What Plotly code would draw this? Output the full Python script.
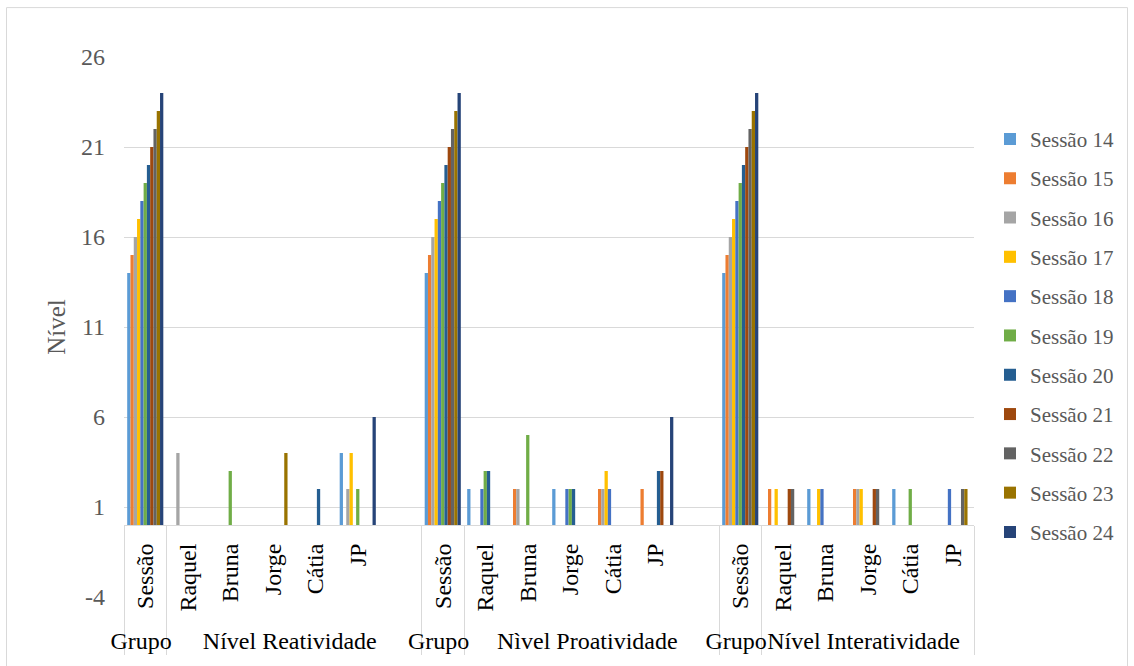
import plotly.graph_objects as go

# ---- categories (outer level / inner level) ----
ZW = "\u200b"
outer_labels = (["Grupo"] + ["Nível Reatividade"] * 6 +
                ["Grupo" + ZW] + ["Nìvel Proatividade"] * 6 +
                ["Grupo" + ZW * 2] + ["Nível Interatividade"] * 5)
inner_labels = (["Sessão", "Raquel", "Bruna", "Jorge", "Cátia", "JP", " "] +
                ["Sessão", "Raquel", "Bruna", "Jorge", "Cátia", "JP", " "] +
                ["Sessão", "Raquel", "Bruna", "Jorge", "Cátia", "JP"])

# ---- series values (one value per category above) ----
sessao_14 = [14, 0, 0, 0, 0, 4, 0, 14, 2, 0, 2, 0, 0, 0, 14, 0, 2, 0, 2, 0]
sessao_15 = [15, 0, 0, 0, 0, 0, 0, 15, 0, 2, 0, 2, 2, 0, 15, 2, 0, 2, 0, 0]
sessao_16 = [16, 4, 0, 0, 0, 2, 0, 16, 0, 2, 0, 2, 0, 0, 16, 0, 0, 2, 0, 0]
sessao_17 = [17, 0, 0, 0, 0, 4, 0, 17, 0, 0, 0, 3, 0, 0, 17, 2, 2, 2, 0, 0]
sessao_18 = [18, 0, 0, 0, 0, 0, 0, 18, 2, 0, 2, 2, 0, 0, 18, 0, 2, 0, 0, 2]
sessao_19 = [19, 0, 3, 0, 0, 2, 0, 19, 3, 5, 2, 0, 0, 0, 19, 0, 0, 0, 2, 0]
sessao_20 = [20, 0, 0, 0, 2, 0, 0, 20, 3, 0, 2, 0, 3, 0, 20, 0, 0, 0, 0, 0]
sessao_21 = [21, 0, 0, 0, 0, 0, 0, 21, 0, 0, 0, 0, 3, 0, 21, 2, 0, 2, 0, 0]
sessao_22 = [22, 0, 0, 0, 0, 0, 0, 22, 0, 0, 0, 0, 0, 0, 22, 2, 0, 2, 0, 2]
sessao_23 = [23, 0, 0, 4, 0, 0, 0, 23, 0, 0, 0, 0, 0, 0, 23, 0, 0, 0, 0, 2]
sessao_24 = [24, 0, 0, 0, 0, 6, 0, 24, 0, 0, 0, 0, 6, 0, 24, 0, 0, 0, 0, 0]

series_names = ["Sessão 14", "Sessão 15", "Sessão 16", "Sessão 17", "Sessão 18",
                "Sessão 19", "Sessão 20", "Sessão 21", "Sessão 22", "Sessão 23",
                "Sessão 24"]
series_values = [sessao_14, sessao_15, sessao_16, sessao_17, sessao_18, sessao_19,
                 sessao_20, sessao_21, sessao_22, sessao_23, sessao_24]
series_colors = ["#5B9BD5", "#ED7D31", "#A5A5A5", "#FFC000", "#4472C4", "#70AD47",
                 "#255E91", "#9E480E", "#636363", "#997300", "#264478"]

y_ticks = [-4, 1, 6, 11, 16, 21, 26]
y_tick_labels = ["-4", "1", "6", "11", "16", "21", "26"]

FONT = "Liberation Serif"
GRID = "#d9d9d9"

fig = go.Figure()
for name, vals, col in zip(series_names, series_values, series_colors):
    fig.add_trace(go.Bar(
        x=[outer_labels, inner_labels], y=vals, name=name,
        marker=dict(color=col, line=dict(width=0)),
        legendgroup=name,
    ))

W, H = 1134, 666
L, R, T, B = 124, 160, 57, 57
pw, ph = W - L - R, H - T - B

def px_x(p):
    return (p - L) / pw

def px_y(p):
    return (H - B - p) / ph

fig.update_layout(
    width=W, height=H,
    margin=dict(l=L, r=R, t=T, b=B),
    paper_bgcolor="white", plot_bgcolor="white",
    barmode="group", bargap=0.15, bargroupgap=0,
    font=dict(family=FONT, color="#595959"),
    showlegend=True,
    legend=dict(
        x=px_x(990), xanchor="left", y=px_y(342), yanchor="middle",
        font=dict(family=FONT, size=21, color="#595959"),
        tracegroupgap=9, bgcolor="rgba(0,0,0,0)",
    ),
    xaxis=dict(
        anchor="free", position=(0 - y_ticks[0]) / (y_ticks[-1] - y_ticks[0]),
        showline=True, linecolor=GRID, linewidth=1,
        showdividers=True, dividercolor=GRID, dividerwidth=1,
        tickangle=-90, ticks="", showgrid=False,
        ticklabelstandoff=8,
        tickfont=dict(family=FONT, size=24, color="#000000"),
    ),
    yaxis=dict(
        range=[y_ticks[0], y_ticks[-1]], tickmode="array",
        tickvals=y_ticks, ticktext=y_tick_labels,
        showgrid=True, gridcolor=GRID, gridwidth=1,
        zeroline=False, showline=False, ticks="",
        ticklabelstandoff=18,
        tickfont=dict(family=FONT, size=24, color="#595959"),
        title=dict(text="Nível", font=dict(family=FONT, size=25, color="#595959"),
                   standoff=8),
    ),
    shapes=[dict(type="rect", xref="paper", yref="paper",
                 x0=px_x(6.5), x1=px_x(1127.5), y0=px_y(680), y1=px_y(6.5),
                 line=dict(color=GRID, width=1), fillcolor="rgba(0,0,0,0)",
                 layer="below")],
)

fig.write_html("out.html")
